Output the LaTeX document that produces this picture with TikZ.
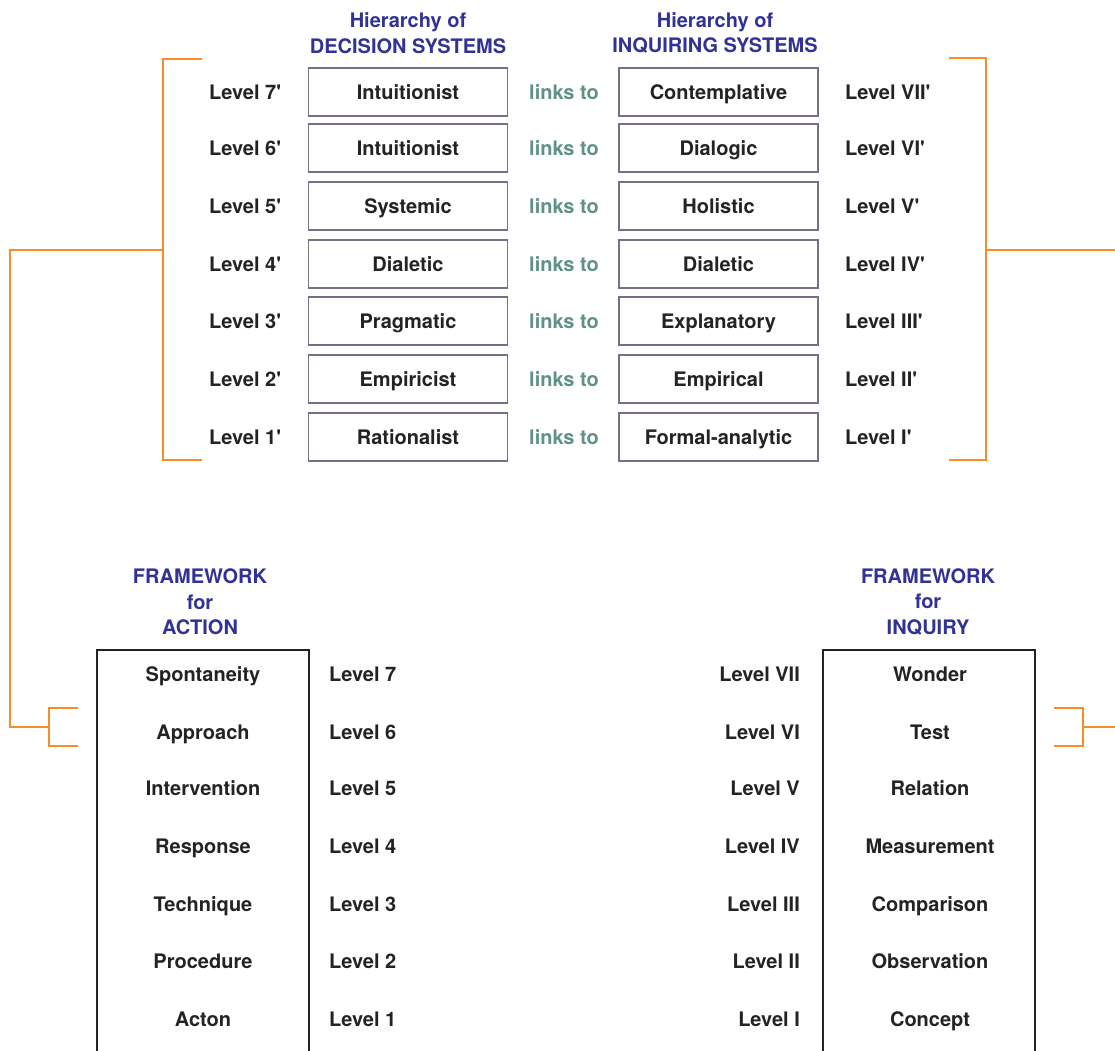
\documentclass[tikz,border=0pt]{standalone}
\usepackage{fontspec}
\setmainfont{TeX Gyre Heros}
\usetikzlibrary{positioning}
\definecolor{headblue}{RGB}{50,50,150}
\definecolor{linkteal}{RGB}{95,145,135}
\definecolor{boxgray}{RGB}{120,110,135}
\definecolor{bracket}{RGB}{247,140,40}
\definecolor{inkdark}{RGB}{35,35,35}

\begin{document}
\begin{tikzpicture}
      [ x=1pt, y=-1pt,
        every node/.style={font=\fontsize{20}{24}\selectfont\bfseries, text=inkdark},
        lbl/.style={text height=18.4pt, text depth=4pt, inner sep=0pt},
        sysbox/.style={lbl, draw=boxgray, line width=1.5pt,
                       minimum width=199pt, minimum height=48pt},
        heading/.style={text=headblue, align=center,
                        font=\fontsize{20}{25.5}\selectfont\bfseries},
        linklabel/.style={lbl, text=linkteal},
        frame/.style={draw=inkdark, line width=1.5pt},
        brace/.style={draw=bracket, line width=1.5pt}
      ]
      \useasboundingbox (0,0) rectangle (1115,1050);

      % headings
      \node[heading] (dechead) at (408,33)  {Hierarchy of\\DECISION SYSTEMS};
      \node[heading] (inqhead) at (715,33)  {Hierarchy of\\INQUIRING SYSTEMS};
      \node[heading] (acthead) at (200,602) {FRAMEWORK\\for\\ACTION};
      \node[heading] (qryhead) at (928,602) {FRAMEWORK\\for\\INQUIRY};

      % hierarchies
      \foreach \n/\y/\dec/\inq/\rom in
        {7/92/Intuitionist/Contemplative/VII, 6/148/Intuitionist/Dialogic/VI,
         5/206/Systemic/Holistic/V, 4/264/Dialetic/Dialetic/IV,
         3/321/Pragmatic/Explanatory/III, 2/379/Empiricist/Empirical/II,
         1/437/Rationalist/Formal-analytic/I}
      {
        \node[lbl,anchor=west] (dlev\n) at (209,\y)   {Level \n\textquotesingle};
        \node[sysbox]          (dec\n)  at (408,\y)   {\dec};
        \node[linklabel]       (link\n) at (564,\y)   {links to};
        \node[sysbox]          (inq\n)  at (718.5,\y) {\inq};
        \node[lbl,anchor=west] (ilev\n) at (845,\y)   {Level \rom\textquotesingle};
      }

      % frameworks
      \draw[frame] (97,1052) |- (309,650) -- (309,1052);
      \draw[frame] (823,1052) |- (1035,650) -- (1035,1052);
      \foreach \n/\y/\act/\qry/\rom in
        {7/674/Spontaneity/Wonder/VII, 6/732/Approach/Test/VI,
         5/788/Intervention/Relation/V, 4/846/Response/Measurement/IV,
         3/904/Technique/Comparison/III, 2/961/Procedure/Observation/II,
         1/1019/Acton/Concept/I}
      {
        \node[lbl]             (act\n)  at (203,\y) {\act};
        \node[lbl,anchor=west] (alev\n) at (329,\y) {Level \n};
        \node[lbl,anchor=east] (qlev\n) at (800,\y) {Level \rom};
        \node[lbl]             (qry\n)  at (930,\y) {\qry};
      }

      % brackets
      \coordinate (ltop) at (202,59);   \coordinate (lbot) at (202,460);
      \coordinate (lmid) at (163,250);  \coordinate (ljoin) at (49,727);
      \coordinate (lup)  at (78,708);   \coordinate (ldown) at (78,746);
      \coordinate (rtop) at (949,58);   \coordinate (rbot) at (949,460);
      \coordinate (rmid) at (986,250);  \coordinate (rend) at (1116,250);
      \coordinate (rup)  at (1054,708); \coordinate (rdown) at (1054,746);
      \coordinate (rjoin) at (1083,727); \coordinate (rlow) at (1116,727);

      \draw[brace] (ltop) -| (lbot -| lmid) -- (lbot);
      \draw[brace] (lmid) -| (10,727) -- (ljoin);
      \draw[brace] (lup) -| (ldown -| ljoin) -- (ldown);
      \draw[brace] (rtop) -| (rbot -| rmid) -- (rbot);
      \draw[brace] (rmid) -- (rend);
      \draw[brace] (rup) -| (rdown -| rjoin) -- (rdown);
      \draw[brace] (rjoin) -- (rlow);
    \end{tikzpicture}
\end{document}
